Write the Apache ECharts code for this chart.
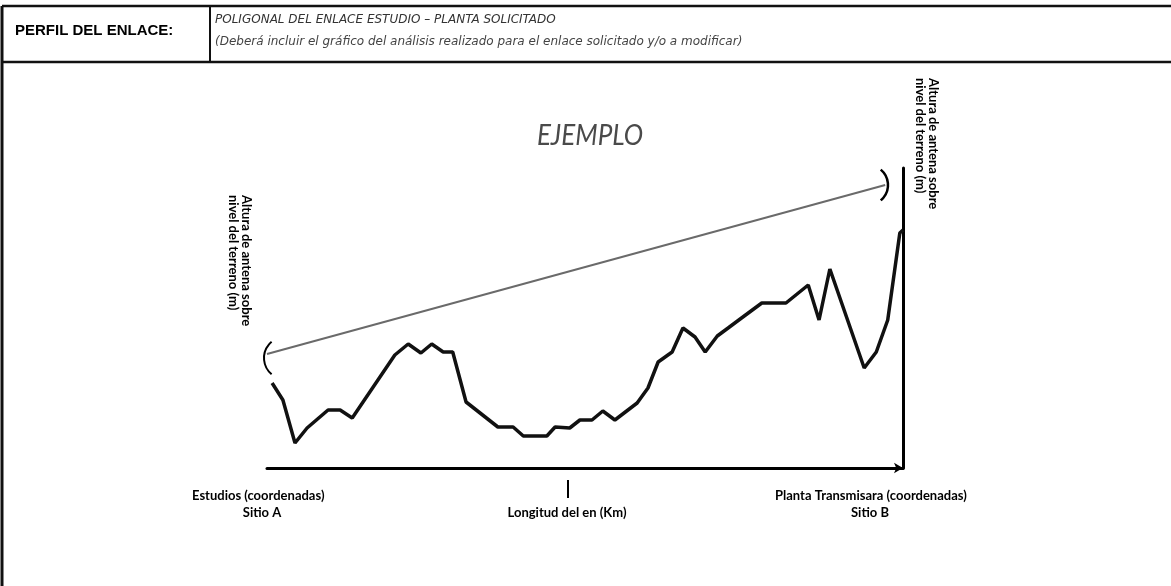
<!DOCTYPE html>
<html>
<head>
<meta charset="utf-8">
<title>Perfil del enlace</title>
<script src="https://cdn.jsdelivr.net/npm/echarts@6/dist/echarts.min.js"></script>
<style>
  html, body { margin: 0; padding: 0; background: #fff; }
  #perfil { width: 1171px; height: 586px; }
</style>
</head>
<body>
<div id="perfil"></div>
<script>
var myChart = echarts.init(document.getElementById('perfil'));

// distancia (km, escala relativa 0-100) y altura del terreno (m)
var distancia = [0.8, 2.5, 4.4, 6.3, 9.6, 11.5, 13.4, 20.1, 22.2, 24.2, 25.9, 27.7, 29.2, 31.3,
    36.3, 38.7, 40.3, 44.0, 45.3, 47.6, 49.2, 51.1, 52.8, 54.7, 58.2, 59.9, 61.5, 63.7,
    65.4, 67.3, 68.9, 70.8, 72.5, 74.4, 77.8, 81.6, 85.1, 86.8, 88.5, 93.9, 95.8, 97.6, 99.5, 100];
var terreno = [85, 68, 25, 40, 58, 58, 50, 113, 124, 115, 124, 116, 116, 66,
    41, 41, 32, 32, 41, 40, 48, 48, 57, 48, 65, 80, 106, 116,
    140, 131, 116, 132, 140, 149, 165, 165, 183, 148, 199, 100, 116, 148, 235, 238];

// linea de vista entre antenas
var enlaceDist = [0, 97.2];
var enlaceAltura = [114, 283];

var pares = function (xs, ys) {
    var res = [];
    for (var i = 0; i < xs.length; i++) {
        res.push([xs[i], ys[i]]);
    }
    return res;
};

var fuente = 'Lato, "DejaVu Sans", sans-serif';
var fuenteCab = '"DejaVu Sans", sans-serif';

option = {
    animation: false,
    backgroundColor: '#fff',
    grid: {
        left: 267,
        top: 168,
        width: 636,
        height: 300
    },
    xAxis: {
        type: 'value',
        min: 0,
        max: 100,
        axisLine: {
            show: true,
            onZero: false,
            symbol: ['none', 'arrow'],
            symbolSize: [8, 9],
            lineStyle: { color: '#000', width: 3 }
        },
        axisTick: { show: false },
        axisLabel: { show: false },
        splitLine: { show: false }
    },
    yAxis: {
        type: 'value',
        min: 0,
        max: 300,
        position: 'right',
        axisLine: {
            show: true,
            onZero: false,
            lineStyle: { color: '#000', width: 3 }
        },
        axisTick: { show: false },
        axisLabel: { show: false },
        splitLine: { show: false }
    },
    series: [
        {
            name: 'Terreno',
            type: 'line',
            data: pares(distancia, terreno),
            symbol: 'none',
            lineStyle: { color: '#111', width: 3.5 },
            z: 3
        },
        {
            name: 'Enlace',
            type: 'line',
            data: pares(enlaceDist, enlaceAltura),
            symbol: 'none',
            lineStyle: { color: '#6a6a6a', width: 2 },
            z: 2
        }
    ],
    graphic: [
        // marco del formulario
        { type: 'line', shape: { x1: 2, y1: 6, x2: 1171, y2: 6 }, style: { stroke: '#111', lineWidth: 2.5 } },
        { type: 'line', shape: { x1: 2, y1: 62, x2: 1171, y2: 62 }, style: { stroke: '#111', lineWidth: 2.5 } },
        { type: 'line', shape: { x1: 2, y1: 6, x2: 2, y2: 586 }, style: { stroke: '#111', lineWidth: 3 } },
        { type: 'line', shape: { x1: 210, y1: 6, x2: 210, y2: 62 }, style: { stroke: '#111', lineWidth: 2 } },
        {
            type: 'text', x: 15, y: 31,
            style: {
                text: 'PERFIL DEL ENLACE:', fill: '#000',
                font: 'bold 15px "Liberation Sans", sans-serif',
                textVerticalAlign: 'middle'
            }
        },
        {
            type: 'text', x: 215, y: 20,
            style: {
                text: 'POLIGONAL DEL ENLACE ESTUDIO – PLANTA SOLICITADO', fill: '#333',
                font: 'oblique 12px ' + fuenteCab, textVerticalAlign: 'middle'
            }
        },
        {
            type: 'text', x: 215, y: 42,
            style: {
                text: '(Deberá incluir el gráfico del análisis realizado para el enlace solicitado y/o a modificar)',
                fill: '#444', font: 'oblique 12px ' + fuenteCab, textVerticalAlign: 'middle'
            }
        },
        {
            type: 'text', x: 590, y: 136, scaleY: 1.12,
            style: {
                text: 'EJEMPLO', fill: '#4a4a4a', font: 'italic 26px ' + fuente,
                textAlign: 'center', textVerticalAlign: 'middle'
            }
        },
        // etiquetas verticales
        {
            type: 'text', x: 246, y: 195, rotation: -Math.PI / 2,
            style: { text: 'Altura de antena sobre', fill: '#000', font: 'bold 13px ' + fuente, textVerticalAlign: 'middle' }
        },
        {
            type: 'text', x: 233, y: 195, rotation: -Math.PI / 2,
            style: { text: 'nivel del terreno (m)', fill: '#000', font: 'bold 13px ' + fuente, textVerticalAlign: 'middle' }
        },
        {
            type: 'text', x: 933, y: 78, rotation: -Math.PI / 2,
            style: { text: 'Altura de antena sobre', fill: '#000', font: 'bold 13px ' + fuente, textVerticalAlign: 'middle' }
        },
        {
            type: 'text', x: 920, y: 78, rotation: -Math.PI / 2,
            style: { text: 'nivel del terreno (m)', fill: '#000', font: 'bold 13px ' + fuente, textVerticalAlign: 'middle' }
        },
        // corchetes de altura de antena
        {
            type: 'arc', shape: { cx: 285, cy: 358, r: 21, startAngle: Math.PI * 0.72, endAngle: Math.PI * 1.28 },
            style: { stroke: '#000', lineWidth: 2, fill: null }
        },
        {
            type: 'arc', shape: { cx: 868, cy: 185, r: 20, startAngle: -Math.PI * 0.28, endAngle: Math.PI * 0.28 },
            style: { stroke: '#000', lineWidth: 2.5, fill: null }
        },
        // textos del eje inferior
        {
            type: 'text', x: 192, y: 496,
            style: { text: 'Estudios (coordenadas)', fill: '#000', font: 'bold 13px ' + fuente, textVerticalAlign: 'middle' }
        },
        {
            type: 'text', x: 262, y: 513,
            style: { text: 'Sitio A', fill: '#000', font: 'bold 13px ' + fuente, textAlign: 'center', textVerticalAlign: 'middle' }
        },
        { type: 'line', shape: { x1: 568, y1: 480, x2: 568, y2: 498 }, style: { stroke: '#000', lineWidth: 2 } },
        {
            type: 'text', x: 567, y: 513,
            style: { text: 'Longitud del en (Km)', fill: '#000', font: 'bold 13px ' + fuente, textAlign: 'center', textVerticalAlign: 'middle' }
        },
        {
            type: 'text', x: 775, y: 496,
            style: { text: 'Planta Transmisara (coordenadas)', fill: '#000', font: 'bold 13px ' + fuente, textVerticalAlign: 'middle' }
        },
        {
            type: 'text', x: 870, y: 513,
            style: { text: 'Sitio B', fill: '#000', font: 'bold 13px ' + fuente, textAlign: 'center', textVerticalAlign: 'middle' }
        }
    ]
};

myChart.setOption(option);
</script>
</body>
</html>
